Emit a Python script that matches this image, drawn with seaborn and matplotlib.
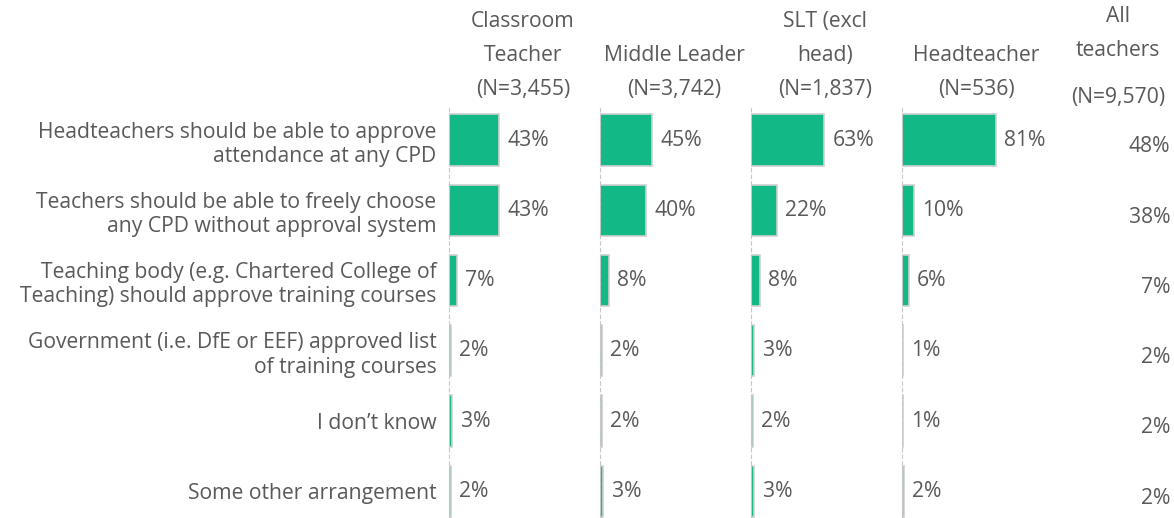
import matplotlib
matplotlib.use("Agg")
import matplotlib.pyplot as plt
import numpy as np
import pandas as pd
import seaborn as sns

statements = [
    "Headteachers should be able to approve\nattendance at any CPD",
    "Teachers should be able to freely choose\nany CPD without approval system",
    "Teaching body (e.g. Chartered College of\nTeaching) should approve training courses",
    "Government (i.e. DfE or EEF) approved list\nof training courses",
    "I don\u2019t know",
    "Some other arrangement",
]
groups = ["Classroom\nTeacher\n(N=3,455)", "Middle Leader\n(N=3,742)",
          "SLT (excl\nhead)\n(N=1,837)", "Headteacher\n(N=536)"]
classroom = [43, 43, 7, 2, 3, 2]
middle = [45, 40, 8, 2, 2, 3]
slt = [63, 22, 8, 3, 2, 3]
head = [81, 10, 6, 1, 1, 2]
all_teachers = [48, 38, 7, 2, 2, 2]
all_title = "All\nteachers"
all_n = "(N=9,570)"

GREEN = "#12b886"
TEXT = "#595959"
FS = 15.2

sns.set_theme(style="white")
plt.rcParams["font.family"] = ["Open Sans", "DejaVu Sans"]

W, H = 1174, 518
fig = plt.figure(figsize=(W / 100, H / 100), dpi=100)

series = [classroom, middle, slt, head]
top_px = 105
for i, (g, vals) in enumerate(zip(groups, series)):
    left = 449 + 151 * i
    ax = fig.add_axes([left / W, 0, 151 / W, (H - top_px) / H])
    df = pd.DataFrame({"statement": statements, "value": vals})
    sns.barplot(data=df, x="value", y="statement", orient="h", color=GREEN,
                saturation=1, width=0.73, edgecolor="#d0d0d0", linewidth=1.2, ax=ax)
    ax.set_xlim(0, 130)
    ax.set_ylim(5.38, -0.5)
    for j, v in enumerate(vals):
        ax.text(v + 7, j, f"{v}%", va="center", ha="left", fontsize=FS, color=TEXT)
    ax.set_xlabel("")
    ax.set_ylabel("")
    ax.set_xticks([])
    for s in ["top", "right", "bottom"]:
        ax.spines[s].set_visible(False)
    ax.spines["left"].set_color("#c8c8c8")
    ax.spines["left"].set_linestyle((0, (3, 3)))
    ax.spines["left"].set_linewidth(0.8)
    ax.tick_params(axis="y", length=0, pad=9)
    if i == 0:
        ax.set_yticks(range(len(statements)))
        ax.set_yticklabels(statements, fontsize=FS, color=TEXT, linespacing=1.2)
        for lab in ax.get_yticklabels():
            lab.set_ha("right")
    else:
        ax.set_yticklabels([])
    fig.text((left + 74) / W, 1 - 100 / H, g, ha="center", va="bottom",
             fontsize=FS, color=TEXT, linespacing=1.8)

fig.text(1118 / W, 1 - 61 / H, all_title, ha="center", va="bottom",
         fontsize=FS, color=TEXT, linespacing=1.8)
fig.text(1118 / W, 1 - 97 / H, all_n, ha="center", va="center",
         fontsize=FS, color=TEXT)
for j, v in enumerate(all_teachers):
    y_px = 147 + 70.2 * j
    fig.text(1170 / W, 1 - y_px / H, f"{v}%", ha="right", va="center",
             fontsize=FS, color=TEXT)

fig.savefig("out.png", dpi=100)
